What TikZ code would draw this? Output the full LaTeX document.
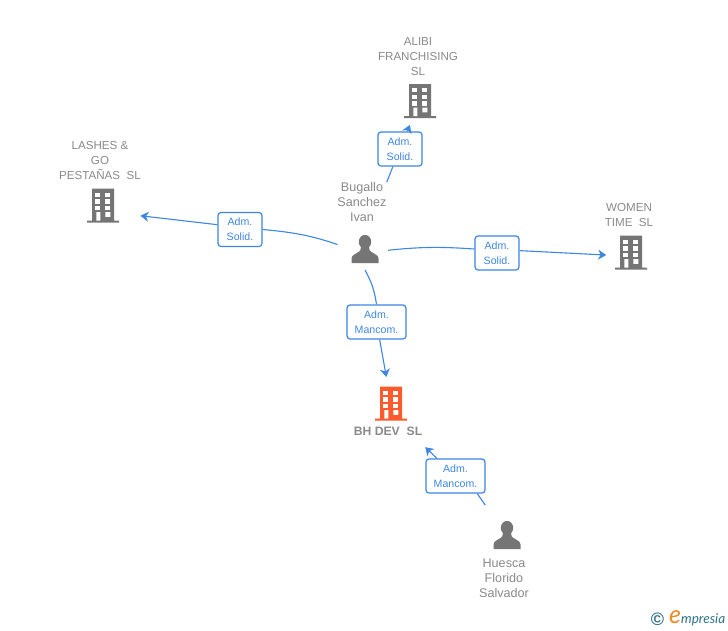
\documentclass[tikz,border=0pt]{standalone}
\usepackage{fontspec}
\setmainfont{Liberation Sans}
\newfontfamily\logofont{Lato}
\usetikzlibrary{arrows.meta, positioning}
\definecolor{linkblue}{HTML}{3D86E2}
\definecolor{icongray}{HTML}{757575}
\definecolor{labelgray}{HTML}{8A8A8A}
\definecolor{mainorange}{HTML}{FF5A2B}
\definecolor{logoteal}{HTML}{2F7388}
\definecolor{logoorange}{HTML}{F08A24}

\begin{document}
\begin{tikzpicture}[
    x=1pt, y=-1pt,
    >={Stealth[length=8pt, width=10pt, inset=2.5pt]},
    icon/.style={circle, inner sep=0pt, outer sep=0pt, minimum size=#1},
    caption/.style={align=center, inner sep=0pt, text=labelgray, font=\fontsize{11.6}{15}\selectfont},
    personname/.style={caption, font=\fontsize{12.6}{15}\selectfont},
    tag/.style={draw=linkblue, line width=1.2pt, rounded corners=3pt, fill=white, align=center, inner sep=0pt, minimum height=34pt, text=linkblue, font=\fontsize{10.6}{15}\selectfont},
    link/.style={line width=1.1pt, linkblue},
    flow/.style={->, line width=1.1pt, linkblue},
    building/.pic={
      \fill[#1] (-11,-16.5) rectangle (11,16) (-16,15.5) rectangle (16,17.5);
      \foreach \wx in {-7.7,2.3}
        \foreach \wy in {-12.5,-5.8,0.8}
          \fill[white] (\wx,\wy) rectangle ++(5,4.4);
      \fill[white] (-6.7,7.2) rectangle (-2.7,15.5) (2.3,7.2) rectangle (7.3,11.8);
    },
    person/.pic={
      \fill[icongray] (0,-7.2) ellipse (6.2 and 6.9);
      \fill[icongray] (-13.5,14) -- (-13.5,9.5) .. controls (-13.5,6.5) and (-9,4.5) .. (-6.5,3)
        .. controls (-5,2) and (-4,1) .. (-4,-2) -- (4,-2) .. controls (4,1) and (5,2) .. (6.5,3)
        .. controls (9,4.5) and (13.5,6.5) .. (13.5,9.5) -- (13.5,14) -- cycle;
    }
  ]
    \useasboundingbox[fill=white] (0,0) rectangle (728,630);

    % companies
    \node[icon=53pt] (alibi) at (420,100.5) {};
    \node[icon=78pt] (lashes) at (103,205) {};
    \node[icon=50pt] (women) at (631,252) {};
    \node[icon=53pt] (bhdev) at (391,403) {};
    \pic at (alibi) {building=icongray};
    \pic at (lashes) {building=icongray};
    \pic at (women) {building=icongray};
    \pic at (bhdev) {building=mainorange};

    % people
    \node[icon=42pt] (bugallo) at (365,249) {};
    \node[icon=74pt] (huesca) at (507,535) {};
    \pic at (bugallo) {person};
    \pic at (huesca) {person};

    % names
    \node[caption] (alibiname) at (418,57) {ALIBI\\FRANCHISING\\SL};
    \node[caption] (lashesname) at (100,161) {LASHES \&\\GO\\PESTAÑAS\ \ SL};
    \node[caption] (womenname) at (629,214.5) {WOMEN\\TIME\ \ SL};
    \node[caption, font=\fontsize{12.2}{15}\selectfont\bfseries, minimum width=74pt, minimum height=32pt] (bhdevname) at (388,431) {BH DEV\ \ SL};
    \node[personname] (bugalloname) at (362,202) {Bugallo\\Sanchez\\Ivan};
    \node[personname] (huescaname) at (504,578) {Huesca\\Florido\\Salvador};

    % position tags
    \node[tag, minimum width=44pt] (solidalibi) at (400,149) {Adm.\\Solid.};
    \node[tag, minimum width=44pt] (solidlashes) at (240,229.5) {Adm.\\Solid.};
    \node[tag, minimum width=44pt] (solidwomen) at (497,253) {Adm.\\Solid.};
    \node[tag, minimum width=59pt] (mancomdev) at (376.5,322) {Adm.\\Mancom.};
    \node[tag, minimum width=59pt] (mancomhuesca) at (455.5,476) {Adm.\\Mancom.};

    % connectors
    \draw[link] (bugalloname.north east) -- (solidalibi.248);
    \draw[flow] (solidalibi) -- (alibi);
    \draw[link, shorten <=7pt] (bugallo.174) to[bend right=7] (solidlashes.east);
    \draw[flow] (solidlashes.168) -- (lashes.-16);
    \draw[link, shorten <=2pt] (bugallo.-4) to[bend left=5] (solidwomen.170);
    \draw[flow] (solidwomen.6) -- (women.187);
    \draw[link] (bugallo.south) to[bend left=10] (mancomdev.north);
    \draw[flow] (mancomdev) -- (bhdev);
    \draw[link] (huesca.126) -- (mancomhuesca.-39);
    \draw[flow] (mancomhuesca) -- (bhdevname.south east);

    % logo
    \node[inner sep=0pt, text=logoteal, font=\bfseries\fontsize{18}{18}\selectfont] (copyr) at (657.5,619) {©};
    \node[inner sep=0pt, text=logoorange, font=\logofont\itshape\fontsize{25}{25}\selectfont] (logoe) at (675,617) {e};
    \node[inner sep=0pt, anchor=west, text=logoteal, font=\logofont\itshape\fontsize{13.5}{13.5}\selectfont] (logotext) at (681,620) {mpresia};
\end{tikzpicture}
\end{document}
